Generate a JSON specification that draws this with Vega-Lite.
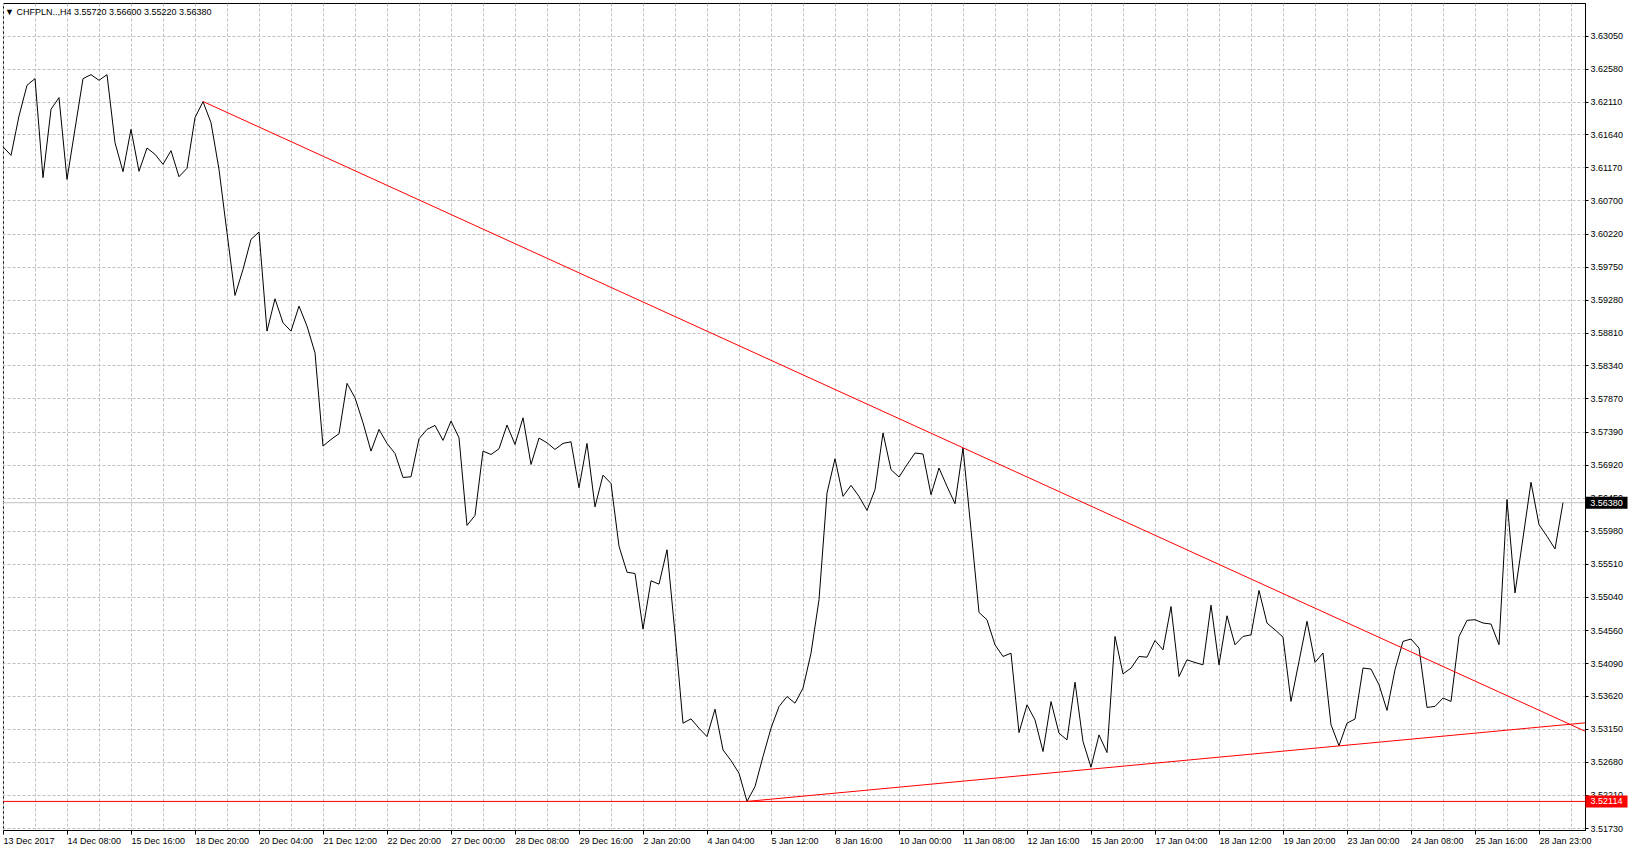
{
  "$schema": "https://vega.github.io/schema/vega-lite/v6.json",
  "width": 1582,
  "height": 827,
  "autosize": {"type": "none"},
  "padding": {"left": 3, "top": 3, "right": 43, "bottom": 22},
  "background": "white",
  "view": {"stroke": "black", "strokeWidth": 1},
  "title": {
    "text": "▼  CHFPLN..,H4  3.55720 3.56600 3.55220 3.56380",
    "anchor": "start",
    "orient": "top",
    "baseline": "middle",
    "offset": -8,
    "dx": 4,
    "dy": 10,
    "fontSize": 9,
    "fontWeight": "normal",
    "font": "Liberation Sans",
    "color": "black"
  },
  "config": {
    "font": "Liberation Sans",
    "axis": {
      "labelFont": "Liberation Sans",
      "labelFontSize": 9,
      "labelColor": "black",
      "labelOverlap": false,
      "labelFlush": false,
      "domainColor": "black",
      "tickColor": "black",
      "gridColor": "#c0c0c0",
      "gridDash": [3, 2],
      "gridWidth": 1,
      "tickCount": 200,
      "title": null
    }
  },
  "datasets": {
    "price": [
      {"bar":0,"price":3.61465},{"bar":1,"price":3.61341},{"bar":2,"price":3.61903},{"bar":3,"price":3.62342},
      {"bar":4,"price":3.62437},{"bar":5,"price":3.61022},{"bar":6,"price":3.61999},{"bar":7,"price":3.62166},
      {"bar":8,"price":3.60998},{"bar":9,"price":3.61718},{"bar":10,"price":3.62437},{"bar":11,"price":3.62494},
      {"bar":12,"price":3.62413},{"bar":13,"price":3.62494},{"bar":14,"price":3.61522},{"bar":15,"price":3.61108},
      {"bar":16,"price":3.61713},{"bar":17,"price":3.61113},{"bar":18,"price":3.61446},{"bar":19,"price":3.61356},
      {"bar":20,"price":3.61213},{"bar":21,"price":3.61408},{"bar":22,"price":3.61036},{"bar":23,"price":3.61156},
      {"bar":24,"price":3.61880},{"bar":25,"price":3.62108},{"bar":26,"price":3.61808},{"bar":27,"price":3.61141},
      {"bar":28,"price":3.60236},{"bar":29,"price":3.59340},{"bar":30,"price":3.59712},{"bar":31,"price":3.60141},
      {"bar":32,"price":3.60246},{"bar":33,"price":3.58831},{"bar":34,"price":3.59293},{"bar":35,"price":3.58950},
      {"bar":36,"price":3.58831},{"bar":37,"price":3.59188},{"bar":38,"price":3.58902},{"bar":39,"price":3.58521},
      {"bar":40,"price":3.57189},{"bar":41,"price":3.57284},{"bar":42,"price":3.57365},{"bar":43,"price":3.58084},
      {"bar":44,"price":3.57879},{"bar":45,"price":3.57522},{"bar":46,"price":3.57117},{"bar":47,"price":3.57427},
      {"bar":48,"price":3.57227},{"bar":49,"price":3.57084},{"bar":50,"price":3.56741},{"bar":51,"price":3.56750},
      {"bar":52,"price":3.57293},{"bar":53,"price":3.57427},{"bar":54,"price":3.57484},{"bar":55,"price":3.57270},
      {"bar":56,"price":3.57546},{"bar":57,"price":3.57308},{"bar":58,"price":3.56055},{"bar":59,"price":3.56198},
      {"bar":60,"price":3.57117},{"bar":61,"price":3.57069},{"bar":62,"price":3.57150},{"bar":63,"price":3.57489},
      {"bar":64,"price":3.57212},{"bar":65,"price":3.57593},{"bar":66,"price":3.56926},{"bar":67,"price":3.57303},
      {"bar":68,"price":3.57236},{"bar":69,"price":3.57141},{"bar":70,"price":3.57227},{"bar":71,"price":3.57250},
      {"bar":72,"price":3.56593},{"bar":73,"price":3.57227},{"bar":74,"price":3.56321},{"bar":75,"price":3.56774},
      {"bar":76,"price":3.56655},{"bar":77,"price":3.55759},{"bar":78,"price":3.55388},{"bar":79,"price":3.55369},
      {"bar":80,"price":3.54576},{"bar":81,"price":3.55265},{"bar":82,"price":3.55217},{"bar":83,"price":3.55708},
      {"bar":84,"price":3.54517},{"bar":85,"price":3.53231},{"bar":86,"price":3.53293},{"bar":87,"price":3.53159},
      {"bar":88,"price":3.53040},{"bar":89,"price":3.53431},{"bar":90,"price":3.52850},{"bar":91,"price":3.52697},
      {"bar":92,"price":3.52516},{"bar":93,"price":3.52114},{"bar":94,"price":3.52326},{"bar":95,"price":3.52754},
      {"bar":96,"price":3.53159},{"bar":97,"price":3.53469},{"bar":98,"price":3.53612},{"bar":99,"price":3.53517},
      {"bar":100,"price":3.53731},{"bar":101,"price":3.54231},{"bar":102,"price":3.54994},{"bar":103,"price":3.56518},
      {"bar":104,"price":3.57009},{"bar":105,"price":3.56471},{"bar":106,"price":3.56628},{"bar":107,"price":3.56471},
      {"bar":108,"price":3.56270},{"bar":109,"price":3.56566},{"bar":110,"price":3.57376},{"bar":111,"price":3.56852},
      {"bar":112,"price":3.56747},{"bar":113,"price":3.56923},{"bar":114,"price":3.57090},{"bar":115,"price":3.57076},
      {"bar":116,"price":3.56494},{"bar":117,"price":3.56876},{"bar":118,"price":3.56613},{"bar":119,"price":3.56366},
      {"bar":120,"price":3.57161},{"bar":121,"price":3.55994},{"bar":122,"price":3.54813},{"bar":123,"price":3.54708},
      {"bar":124,"price":3.54350},{"bar":125,"price":3.54184},{"bar":126,"price":3.54231},{"bar":127,"price":3.53097},
      {"bar":128,"price":3.53493},{"bar":129,"price":3.53278},{"bar":130,"price":3.52826},{"bar":131,"price":3.53540},
      {"bar":132,"price":3.53088},{"bar":133,"price":3.52993},{"bar":134,"price":3.53817},{"bar":135,"price":3.52969},
      {"bar":136,"price":3.52602},{"bar":137,"price":3.53064},{"bar":138,"price":3.52812},{"bar":139,"price":3.54470},
      {"bar":140,"price":3.53936},{"bar":141,"price":3.54017},{"bar":142,"price":3.54184},{"bar":143,"price":3.54174},
      {"bar":144,"price":3.54412},{"bar":145,"price":3.54279},{"bar":146,"price":3.54898},{"bar":147,"price":3.53898},
      {"bar":148,"price":3.54136},{"bar":149,"price":3.54098},{"bar":150,"price":3.54065},{"bar":151,"price":3.54917},
      {"bar":152,"price":3.54065},{"bar":153,"price":3.54765},{"bar":154,"price":3.54350},{"bar":155,"price":3.54470},
      {"bar":156,"price":3.54493},{"bar":157,"price":3.55127},{"bar":158,"price":3.54660},{"bar":159,"price":3.54565},
      {"bar":160,"price":3.54460},{"bar":161,"price":3.53542},{"bar":162,"price":3.54114},{"bar":163,"price":3.54686},
      {"bar":164,"price":3.54100},{"bar":165,"price":3.54233},{"bar":166,"price":3.53209},{"bar":167,"price":3.52909},
      {"bar":168,"price":3.53232},{"bar":169,"price":3.53290},{"bar":170,"price":3.54019},{"bar":171,"price":3.54004},
      {"bar":172,"price":3.53780},{"bar":173,"price":3.53414},{"bar":174,"price":3.53995},{"bar":175,"price":3.54400},
      {"bar":176,"price":3.54433},{"bar":177,"price":3.54304},{"bar":178,"price":3.53456},{"bar":179,"price":3.53471},
      {"bar":180,"price":3.53590},{"bar":181,"price":3.53542},{"bar":182,"price":3.54471},{"bar":183,"price":3.54700},
      {"bar":184,"price":3.54709},{"bar":185,"price":3.54662},{"bar":186,"price":3.54647},{"bar":187,"price":3.54352},
      {"bar":188,"price":3.56425},{"bar":189,"price":3.55091},{"bar":190,"price":3.55877},{"bar":191,"price":3.56672},
      {"bar":192,"price":3.56067},{"bar":193,"price":3.55900},{"bar":194,"price":3.55720},{"bar":195,"price":3.56380}
    ],
    "trend": [
      {"line": "upper", "bar": 25, "price": 3.62110},
      {"line": "upper", "bar": 197.75, "price": 3.53117},
      {"line": "lower", "bar": 93, "price": 3.52114},
      {"line": "lower", "bar": 197.75, "price": 3.53236}
    ],
    "levels": [
      {"name": "stop", "price": 3.52114},
      {"name": "bid", "price": 3.56380}
    ]
  },
  "layer": [
    {
      "data": {"name": "levels"},
      "transform": [{"filter": "datum.name === 'bid'"}],
      "mark": {"type": "rule", "color": "#c0c0c0", "strokeWidth": 1},
      "encoding": {
        "y": {"field": "price", "type": "quantitative", "scale": {"domain": [3.517057, 3.63517], "zero": false, "nice": false}}
      }
    },
    {
      "data": {"name": "price"},
      "mark": {"type": "line", "color": "black", "strokeWidth": 1},
      "encoding": {
        "x": {
          "field": "bar", "type": "quantitative",
          "scale": {"domain": [0, 197.75], "zero": false, "nice": false},
          "axis": {
            "orient": "bottom",
            "values": [0,4,8,12,16,20,24,28,32,36,40,44,48,52,56,60,64,68,72,76,80,84,88,92,96,100,104,108,112,116,120,124,128,132,136,140,144,148,152,156,160,164,168,172,176,180,184,188,192,196],
            "tickCount": 200,
            "grid": true,
            "tickSize": 4,
            "tickOpacity": {"condition": {"test": "datum.value % 8 === 0", "value": 1}, "value": 0},
            "labelExpr": "datum.value % 8 === 0 ? ['13 Dec 2017','14 Dec 08:00','15 Dec 16:00','18 Dec 20:00','20 Dec 04:00','21 Dec 12:00','22 Dec 20:00','27 Dec 00:00','28 Dec 08:00','29 Dec 16:00','2 Jan 20:00','4 Jan 04:00','5 Jan 12:00','8 Jan 16:00','10 Jan 00:00','11 Jan 08:00','12 Jan 16:00','15 Jan 20:00','17 Jan 04:00','18 Jan 12:00','19 Jan 20:00','23 Jan 00:00','24 Jan 08:00','25 Jan 16:00','28 Jan 23:00'][datum.value / 8] : ''",
            "labelAlign": "left",
            "labelBaseline": "top",
            "labelPadding": 2,
            "labelOverlap": false,
            "labelFlush": false,
            "title": null
          }
        },
        "y": {
          "field": "price", "type": "quantitative",
          "scale": {"domain": [3.517057, 3.63517], "zero": false, "nice": false},
          "axis": {
            "orient": "right",
            "values": [3.5173, 3.5221, 3.5268, 3.5315, 3.5362, 3.5409, 3.5456, 3.5504, 3.5551, 3.5598, 3.5645, 3.5692, 3.5739, 3.5787, 3.5834, 3.5881, 3.5928, 3.5975, 3.6022, 3.607, 3.6117, 3.6164, 3.6211, 3.6258, 3.6305],
            "tickCount": 200,
            "format": ".5f",
            "grid": true,
            "tickSize": 3,
            "labelPadding": 2,
            "labelAlign": "left",
            "labelBaseline": "middle",
            "labelOverlap": false,
            "labelFlush": false,
            "title": null
          }
        }
      }
    },
    {
      "data": {"name": "levels"},
      "transform": [{"filter": "datum.name === 'stop'"}],
      "mark": {"type": "rule", "color": "#ff0000", "strokeWidth": 1},
      "encoding": {
        "y": {"field": "price", "type": "quantitative", "scale": {"domain": [3.517057, 3.63517], "zero": false, "nice": false}}
      }
    },
    {
      "data": {"name": "trend"},
      "mark": {"type": "line", "color": "#ff0000", "strokeWidth": 1},
      "encoding": {
        "x": {"field": "bar", "type": "quantitative", "scale": {"domain": [0, 197.75], "zero": false, "nice": false}},
        "y": {"field": "price", "type": "quantitative", "scale": {"domain": [3.517057, 3.63517], "zero": false, "nice": false}},
        "detail": {"field": "line", "type": "nominal"}
      }
    },
    {
      "data": {"name": "levels"},
      "mark": {"type": "rect", "width": 42, "height": 12},
      "encoding": {
        "x": {"datum": 200.44, "type": "quantitative", "scale": {"domain": [0, 197.75], "zero": false, "nice": false}},
        "y": {"field": "price", "type": "quantitative", "scale": {"domain": [3.517057, 3.63517], "zero": false, "nice": false}},
        "color": {"field": "name", "type": "nominal", "scale": {"domain": ["stop", "bid"], "range": ["#ff0000", "#000000"]}, "legend": null}
      }
    },
    {
      "data": {"name": "levels"},
      "mark": {"type": "text", "color": "white", "fontSize": 9, "font": "Liberation Sans", "align": "center", "baseline": "middle"},
      "encoding": {
        "x": {"datum": 200.44, "type": "quantitative", "scale": {"domain": [0, 197.75], "zero": false, "nice": false}},
        "y": {"field": "price", "type": "quantitative", "scale": {"domain": [3.517057, 3.63517], "zero": false, "nice": false}},
        "text": {"field": "price", "type": "quantitative", "format": ".5f"}
      }
    }
  ]
}
